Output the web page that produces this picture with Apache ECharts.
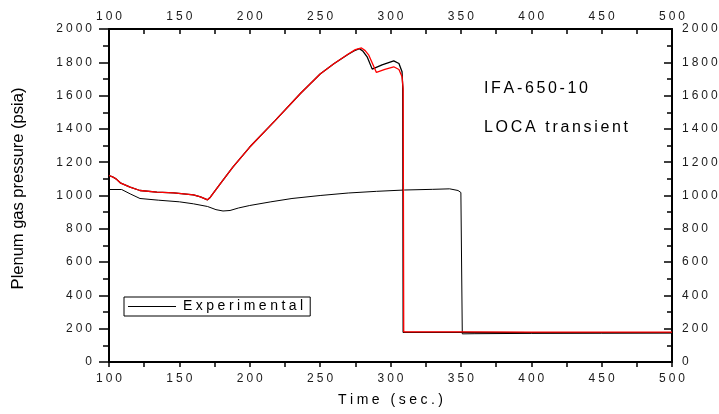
<!DOCTYPE html>
<html>
<head>
<meta charset="utf-8">
<script src="https://cdn.jsdelivr.net/npm/echarts@6/dist/echarts.min.js"></script>
<style>html,body{margin:0;padding:0;background:#fff;}#c{width:719px;height:414px;}</style>
</head>
<body>
<div id="c"></div>
<script>
// ---- data ----
const xTicks = [100, 150, 200, 250, 300, 350, 400, 450, 500];
const yTicks = [0, 200, 400, 600, 800, 1000, 1200, 1400, 1600, 1800, 2000];

const expTime     = [100, 109, 115, 122, 135, 150, 160, 170, 176, 181, 186, 192, 200, 215, 230, 250, 270, 290, 310, 330, 342, 348, 350, 351, 360, 400, 450, 500];
const expPressure = [1036, 1036, 1010, 982, 972, 962, 950, 934, 915, 907, 910, 925, 940, 962, 982, 1000, 1015, 1025, 1033, 1037, 1040, 1030, 1018, 169, 170, 172, 173, 174];

const calcATime     = [100, 103, 105, 108, 115, 122, 134, 146, 160, 165, 170, 172, 179, 188, 200, 218, 236, 250, 260, 270, 274, 277.9, 280.5, 283.4, 287, 294, 302.3, 306, 308.2, 308.7, 309, 350, 400, 500];
const calcAPressure = [1120, 1110, 1100, 1076, 1050, 1030, 1020, 1016, 1004, 992, 974, 990, 1070, 1170, 1291, 1450, 1613, 1730, 1793, 1848, 1868, 1882, 1866, 1833, 1759, 1785, 1809, 1793, 1743, 1650, 178, 178, 177, 177];

const calcBTime     = [100, 103, 105, 108, 115, 122, 134, 146, 160, 165, 170, 172, 179, 188, 200, 218, 236, 250, 260, 270, 275, 279.4, 282, 284.6, 290, 296, 302.3, 306, 308.2, 309, 309.4, 350, 400, 500];
const calcBPressure = [1120, 1110, 1100, 1076, 1050, 1030, 1020, 1016, 1004, 992, 974, 990, 1070, 1170, 1291, 1450, 1613, 1730, 1793, 1850, 1876, 1886, 1870, 1843, 1739, 1758, 1773, 1757, 1713, 1640, 181, 181, 180, 179];

const pairs = (t, p) => t.map((v, i) => [v, p[i]]);
const sp = (s, ch) => s.split('').join(ch);
const FONT = '"Liberation Sans", Arial, sans-serif';

const lineBlack = { color: '#000', width: 2 };
const tickStyle = { color: '#000', width: 1.5 };

const chart = echarts.init(document.getElementById('c'), null, { renderer: 'canvas' });

const xLabel = (v) => (xTicks.indexOf(v) >= 0 ? sp(String(v), '\u2005') : '');
const yLabel = (v) => (yTicks.indexOf(v) >= 0 ? sp(String(v), '\u2005') : '');

const labelStyle = { color: '#1a1a1a', fontSize: 12, fontFamily: FONT };

chart.setOption({
  animation: false,
  backgroundColor: '#fff',
  grid: { left: 109, right: 47, top: 29, bottom: 52, containLabel: false, outerBoundsMode: 'none' },
  xAxis: [
    {
      type: 'value', position: 'bottom', min: 100, max: 500, interval: 50,
      name: sp('Time (sec.)', '\u2005'), nameLocation: 'middle', nameGap: 31,
      nameTextStyle: { color: '#000', fontSize: 14, fontFamily: FONT },
      axisLine: { show: true, onZero: false, lineStyle: lineBlack },
      axisTick: { show: true, inside: false, length: 5, lineStyle: tickStyle },
      minorTick: { show: true, splitNumber: 2, length: 5, lineStyle: tickStyle },
      axisLabel: Object.assign({ margin: 11, formatter: xLabel }, labelStyle),
      splitLine: { show: false }, minorSplitLine: { show: false }
    },
    {
      type: 'value', position: 'top', min: 100, max: 500, interval: 50,
      axisLine: { show: true, onZero: false, lineStyle: lineBlack },
      axisTick: { show: true, inside: true, length: 5, lineStyle: tickStyle },
      minorTick: { show: true, splitNumber: 2, length: 5, lineStyle: tickStyle },
      axisLabel: Object.assign({ margin: 6, formatter: xLabel }, labelStyle),
      splitLine: { show: false }
    }
  ],
  yAxis: [
    {
      type: 'value', position: 'left', min: 0, max: 2000, interval: 200,
      name: 'Plenum gas pressure (psia)', nameLocation: 'middle', nameGap: 82,
      nameTextStyle: { color: '#000', fontSize: 16.5, fontFamily: FONT, padding: [0, 0, 0, 14] },
      axisLine: { show: true, onZero: false, lineStyle: lineBlack },
      axisTick: { show: true, inside: false, length: 10, lineStyle: tickStyle },
      minorTick: { show: true, splitNumber: 2, length: 6, lineStyle: tickStyle },
      axisLabel: Object.assign({ margin: 17, formatter: yLabel }, labelStyle),
      splitLine: { show: false }
    },
    {
      type: 'value', position: 'right', min: 0, max: 2000, interval: 200,
      axisLine: { show: true, onZero: false, lineStyle: lineBlack },
      axisTick: { show: true, inside: true, length: 8, lineStyle: tickStyle },
      minorTick: { show: true, splitNumber: 2, length: 5, lineStyle: tickStyle },
      axisLabel: Object.assign({ margin: 10, formatter: yLabel }, labelStyle),
      splitLine: { show: false }
    }
  ],
  legend: {
    data: ['Experimental'],
    left: 124, top: 297,
    padding: [2, 4, 2, 4],
    borderColor: '#000', borderWidth: 1, backgroundColor: '#fff',
    icon: 'rect', itemWidth: 48, itemHeight: 1,
    itemStyle: { color: '#000', borderWidth: 0 },
    formatter: (n) => sp(n, '\u2005'),
    textStyle: { color: '#000', fontSize: 14, fontFamily: FONT, lineHeight: 15, padding: [0, 3, 0, 2] }
  },
  graphic: [
    { type: 'text', left: 484, top: 81, style: { text: sp('IFA-650-10', '\u2006'), fill: '#000', font: '16px ' + FONT } },
    { type: 'text', left: 484, top: 120, style: { text: sp('LOCA transient', '\u2006'), fill: '#000', font: '16px ' + FONT } }
  ],
  series: [
    {
      name: 'Experimental', type: 'line', xAxisIndex: 0, yAxisIndex: 0,
      data: pairs(expTime, expPressure), symbol: 'none', showSymbol: false,
      lineStyle: { color: '#000', width: 1 }, itemStyle: { color: '#000' }, z: 3
    },
    {
      name: 'Calculated A', type: 'line', xAxisIndex: 0, yAxisIndex: 0,
      data: pairs(calcATime, calcAPressure), symbol: 'none', showSymbol: false,
      lineStyle: { color: '#000', width: 1.3 }, itemStyle: { color: '#000' }, z: 4
    },
    {
      name: 'Calculated B', type: 'line', xAxisIndex: 0, yAxisIndex: 0,
      data: pairs(calcBTime, calcBPressure), symbol: 'none', showSymbol: false,
      lineStyle: { color: '#ff0000', width: 1.3 }, itemStyle: { color: '#ff0000' }, z: 5
    }
  ]
});
</script>
</body>
</html>
